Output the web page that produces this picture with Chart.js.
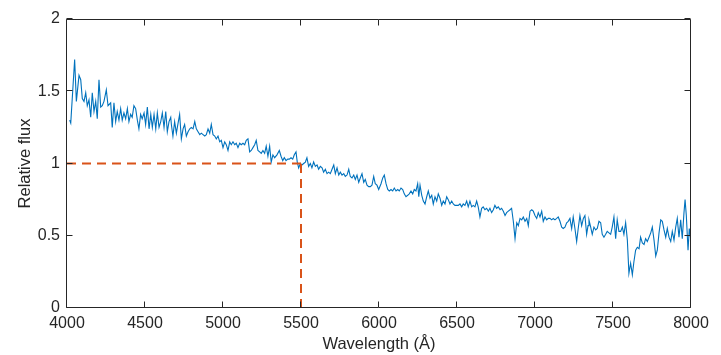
<!DOCTYPE html>
<html>
<head>
<meta charset="utf-8">
<script src="https://cdn.jsdelivr.net/npm/chart.js@4"></script>
<style>
  html, body { margin: 0; padding: 0; background: #ffffff; }
  #wrap { width: 721px; height: 355px; }
</style>
</head>
<body>
<div id="wrap"><canvas id="c" width="721" height="355"></canvas></div>
<script>
// ---- data ----
const wavelength = [
  4017,4024,4049,4060,4077,4088,4098,4109,4120,4130,4141,4152,4162,4173,4184,4194,4205,4216,4226,4237,
  4252,4263,4280,4290,4301,4312,4322,4333,4344,4354,4365,4376,4387,4397,4408,4418,4429,4440,4451,4461,
  4472,4482,4494,4504,4515,4526,4537,4547,4558,4569,4579,4590,4601,4611,4622,4633,4643,4654,4665,
  4669,4679,4690,4701,4712,4722,4733,4744,4754,4765,4776,4787,4797,4808,4819,4829,4840,4851,4861,4872,
  4883,4893,4904,4915,4925,4936,4947,4957,4968,4979,4989,5000,5011,5021,5032,5043,5053,5064,5075,5085,
  5096,5107,5117,5128,5139,5149,5160,5171,5181,5192,5203,5213,5224,5235,5245,5256,5267,5277,5288,5299,
  5309,5320,5331,
  5346,5361,5372,5383,5393,5404,5415,5425,5436,5447,5457,5468,5476,5485,5496,5506,5517,5528,5538,5549,
  5560,5570,5581,5592,5603,5613,5624,5635,5645,5656,5667,5677,5688,5699,5710,5720,5731,5742,5752,5763,
  5774,5784,5795,5806,5816,5827,5838,5848,5859,5870,5880,5891,5902,5912,5923,5934,5944,5955,5966,5976,
  5987,5998,
  6013,6024,6034,6045,6056,6066,6077,6088,6098,6109,6120,6130,6141,6152,6162,6173,6184,6194,6205,6216,
  6226,6237,6248,6255,6263,6274,6284,6295,6306,6316,6327,6338,6348,6359,6370,6380,6391,6402,6412,6423,
  6434,6444,6455,6466,6476,6487,6498,6508,6519,6530,6540,6551,6562,6572,6583,6594,6604,6615,6626,6636,
  6647,6658,6668,
  6679,6690,6701,6711,6722,6733,6743,6754,6765,6776,6786,6797,6808,6818,6829,6840,6850,6861,6872,6883,
  6893,6904,6915,6925,6936,6947,6957,6968,6979,6989,7000,7011,7021,7032,7043,7053,7064,7075,7085,7096,
  7107,7117,7128,7139,7149,7160,7171,7181,7192,7203,7213,7224,7235,7245,7256,7267,7277,7288,7299,7310,
  7320,7331,
  7340,7346,7357,7367,7378,7389,7399,7410,7421,7431,7442,7453,7463,7474,7485,7495,7506,7517,7527,7538,
  7549,7560,7570,7581,7592,7602,7613,7624,7634,7645,7656,7667,7677,7688,7699,7709,7720,7731,7742,7752,
  7763,7774,7784,7795,7806,7816,7827,7838,7848,7859,7870,7880,7891,7902,7912,7923,7934,7944,7955,7962,
  7970,7981,7989,7998
];
const flux = [
  1.30,1.28,1.72,1.43,1.61,1.58,1.45,1.43,1.49,1.40,1.44,1.32,1.49,1.36,1.43,1.31,1.58,1.39,1.40,1.43,
  1.51,1.40,1.42,1.25,1.42,1.29,1.36,1.30,1.38,1.30,1.35,1.31,1.38,1.29,1.34,1.32,1.40,1.38,1.30,1.24,
  1.34,1.31,1.35,1.27,1.39,1.24,1.34,1.25,1.34,1.24,1.35,1.25,1.29,1.35,1.25,1.36,1.22,1.29,1.32,
  1.27,1.19,1.29,1.21,1.28,1.34,1.17,1.24,1.27,1.19,1.22,1.24,1.25,1.24,1.29,1.24,1.22,1.20,1.21,1.20,
  1.19,1.20,1.24,1.21,1.27,1.20,1.19,1.17,1.19,1.15,1.16,1.11,1.15,1.13,1.09,1.15,1.13,1.15,1.13,1.14,
  1.11,1.14,1.13,1.14,1.13,1.16,1.17,1.08,1.09,1.11,1.13,1.16,1.09,1.08,1.07,1.09,1.07,1.12,1.05,1.12,
  1.01,1.06,1.04,
  1.06,1.09,1.05,1.02,1.04,1.02,1.03,1.03,1.04,1.03,1.06,1.08,1.01,0.97,1.00,0.99,1.00,1.01,1.04,0.98,
  1.00,0.97,1.01,0.98,0.99,0.96,0.98,0.97,0.94,0.96,0.93,0.94,0.93,0.96,0.99,0.93,0.97,0.92,0.94,0.92,
  0.93,0.91,0.92,0.96,0.91,0.90,0.92,0.89,0.92,0.87,0.90,0.93,0.87,0.89,0.85,0.84,0.84,0.85,0.91,0.86,
  0.85,0.82,
  0.86,0.90,0.92,0.86,0.82,0.81,0.82,0.81,0.83,0.81,0.82,0.81,0.83,0.82,0.79,0.77,0.78,0.79,0.81,0.79,
  0.82,0.81,0.86,0.77,0.85,0.78,0.74,0.72,0.77,0.81,0.76,0.78,0.72,0.77,0.74,0.79,0.76,0.71,0.74,0.72,
  0.77,0.75,0.72,0.74,0.72,0.71,0.71,0.71,0.72,0.70,0.72,0.71,0.74,0.70,0.74,0.70,0.71,0.70,0.74,0.70,
  0.63,0.69,0.70,
  0.68,0.69,0.67,0.69,0.66,0.68,0.71,0.69,0.70,0.68,0.69,0.67,0.64,0.66,0.67,0.68,0.69,0.60,0.48,0.59,
  0.57,0.62,0.61,0.63,0.60,0.62,0.57,0.67,0.68,0.67,0.64,0.62,0.66,0.63,0.67,0.60,0.63,0.61,0.62,0.62,
  0.61,0.62,0.61,0.62,0.63,0.60,0.56,0.55,0.56,0.59,0.60,0.62,0.55,0.63,0.55,0.46,0.55,0.64,0.57,0.62,
  0.64,0.51,
  0.57,0.61,0.56,0.51,0.56,0.54,0.55,0.60,0.59,0.51,0.49,0.51,0.53,0.52,0.51,0.56,0.63,0.48,0.61,0.53,
  0.53,0.56,0.51,0.59,0.47,0.24,0.31,0.23,0.32,0.40,0.42,0.41,0.49,0.45,0.44,0.48,0.46,0.49,0.52,0.56,
  0.47,0.36,0.40,0.52,0.61,0.60,0.54,0.49,0.55,0.49,0.46,0.53,0.47,0.56,0.62,0.49,0.61,0.48,0.66,0.75,
  0.64,0.40,0.55,0.48
];
const refWavelength = 5500;
const refFlux = 1;
const xTicks = [4000, 4500, 5000, 5500, 6000, 6500, 7000, 7500, 8000];
const yTicks = [0, 0.5, 1, 1.5, 2];
const xTickLabels = ['4000', '4500', '5000', '5500', '6000', '6500', '7000', '7500', '8000'];
const yTickLabels = ['0', '0.5', '1', '1.5', '2'];

// ---- chart ----
const AX = '#262626';
const FONT = '"Liberation Sans", Arial, Helvetica, sans-serif';

const spectrum = wavelength.map((w, i) => ({ x: w, y: flux[i] }));
const hLine = [{ x: xTicks[0], y: refFlux }, { x: refWavelength, y: refFlux }];
const vLine = [{ x: refWavelength, y: yTicks[0] }, { x: refWavelength, y: refFlux }];

const boxPlugin = {
  id: 'boxTicks',
  afterDatasetsDraw(chart) {
    const { ctx, chartArea: a, scales: { x, y } } = chart;
    const L = 6;
    ctx.save();
    ctx.strokeStyle = AX;
    ctx.lineWidth = 1;
    ctx.beginPath();
    const l = Math.round(a.left) - 0.5, r = Math.round(a.right) - 0.5;
    const t = Math.round(a.top) + 0.5, b = Math.round(a.bottom) - 0.5;
    ctx.rect(l, t, r - l, b - t);
    xTicks.forEach(v => {
      const px = Math.round(x.getPixelForValue(v)) - 0.5;
      ctx.moveTo(px, b); ctx.lineTo(px, b - L);
      ctx.moveTo(px, t); ctx.lineTo(px, t + L);
    });
    yTicks.forEach(v => {
      const py = Math.round(y.getPixelForValue(v)) - 0.5;
      ctx.moveTo(l, py); ctx.lineTo(l + L, py);
      ctx.moveTo(r, py); ctx.lineTo(r - L, py);
    });
    ctx.stroke();
    ctx.restore();
  }
};

new Chart(document.getElementById('c'), {
  type: 'line',
  data: {
    datasets: [
      { data: spectrum, borderColor: '#0072BD', borderWidth: 1.1, pointRadius: 0, tension: 0, fill: false, order: 2 },
      { data: hLine, borderColor: '#D95319', borderWidth: 2, borderDash: [9, 6], pointRadius: 0, fill: false, order: 1 },
      { data: vLine, borderColor: '#D95319', borderWidth: 2, borderDash: [9, 6], pointRadius: 0, fill: false, order: 1 }
    ]
  },
  options: {
    responsive: false,
    animation: false,
    events: [],
    layout: { padding: { left: 0, right: 30, top: 19, bottom: 0 } },
    plugins: { legend: { display: false }, tooltip: { enabled: false } },
    scales: {
      x: {
        type: 'linear',
        min: 4000, max: 8000,
        afterFit(s) { s.height = 47; },
        afterBuildTicks(s) { s.ticks = xTicks.map(v => ({ value: v })); },
        grid: { display: false, drawTicks: false },
        border: { display: false },
        ticks: {
          color: AX, padding: 6, maxRotation: 0, autoSkip: false,
          font: { family: FONT, size: 16 },
          callback: (v) => xTickLabels[xTicks.indexOf(v)]
        },
        title: { display: true, text: 'Wavelength (Å)', color: AX, padding: { top: 0, bottom: 1 }, font: { family: FONT, size: 16.5 } }
      },
      y: {
        type: 'linear',
        min: 0, max: 2,
        afterFit(s) { s.width = 67; },
        afterBuildTicks(s) { s.ticks = yTicks.map(v => ({ value: v })); },
        grid: { display: false, drawTicks: false },
        border: { display: false },
        ticks: {
          color: AX, padding: 7, autoSkip: false,
          font: { family: FONT, size: 16 },
          callback: (v) => yTickLabels[yTicks.indexOf(v)]
        },
        title: { display: true, text: 'Relative flux', color: AX, padding: { top: 16, bottom: 0 }, font: { family: FONT, size: 16.5 } }
      }
    }
  },
  plugins: [boxPlugin]
});
</script>
</body>
</html>
